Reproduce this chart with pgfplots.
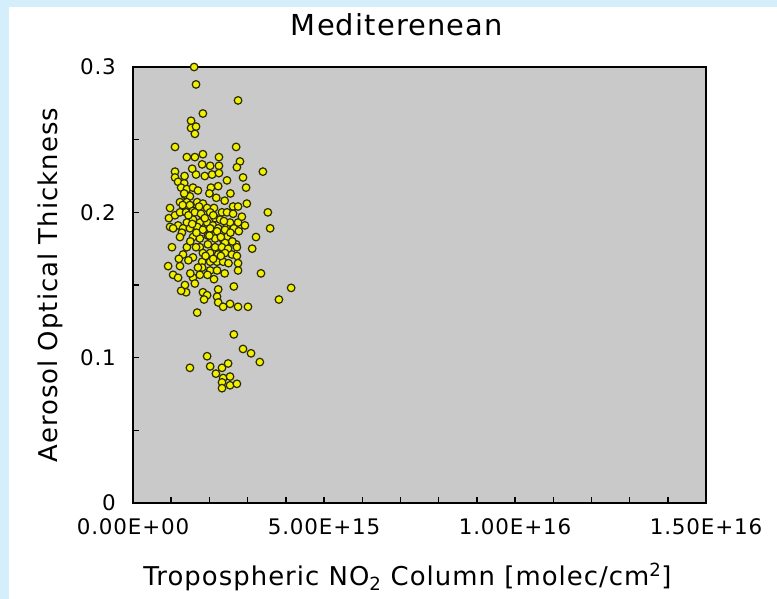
\documentclass[border=0pt]{standalone}
\usepackage{fontspec}
\setmainfont{DejaVu Sans}
\usepackage{pgfplots}
\usepackage{pgfplotstable}
\pgfplotsset{compat=1.18}
\definecolor{framebg}{HTML}{D5EEFC}
\definecolor{plotgray}{HTML}{C9C9C9}
\definecolor{dotyellow}{HTML}{F0F000}
\definecolor{dotedge}{HTML}{2B2B00}
\newfontfamily\wide[LetterSpace=4]{DejaVu Sans}

% NO2 column in units of 1e15 molec/cm^2, AOT
\pgfplotstableread{
no2 aot
1.60 0.300
1.65 0.288
2.75 0.277
1.83 0.268
1.52 0.263
1.52 0.258
1.65 0.259
1.62 0.254
1.10 0.245
2.70 0.245
1.41 0.238
1.62 0.238
1.83 0.240
2.25 0.238
2.80 0.235
1.81 0.233
2.02 0.232
2.25 0.232
2.72 0.231
3.40 0.228
1.10 0.228
1.65 0.226
1.88 0.225
2.07 0.226
2.25 0.227
2.46 0.222
2.88 0.224
1.10 0.224
1.18 0.221
1.34 0.220
1.26 0.217
1.41 0.216
1.57 0.217
1.70 0.215
1.36 0.212
1.49 0.211
2.04 0.217
2.23 0.218
2.96 0.217
1.34 0.213
1.23 0.207
1.41 0.207
1.49 0.205
1.68 0.207
1.83 0.206
0.97 0.203
0.94 0.196
1.10 0.198
1.23 0.200
1.39 0.200
1.57 0.201
1.62 0.200
1.73 0.204
1.94 0.203
2.12 0.203
2.02 0.200
2.33 0.200
2.98 0.206
2.62 0.204
2.75 0.204
2.46 0.200
2.62 0.199
3.53 0.200
1.83 0.195
2.15 0.196
0.97 0.190
1.18 0.191
1.41 0.193
1.57 0.195
1.75 0.193
1.94 0.193
2.09 0.191
2.28 0.195
2.46 0.191
1.68 0.190
2.54 0.193
2.75 0.193
2.93 0.191
3.59 0.189
2.64 0.189
1.05 0.189
1.31 0.189
2.77 0.187
1.28 0.186
1.49 0.189
1.83 0.188
2.02 0.189
2.23 0.189
2.41 0.188
1.57 0.183
1.75 0.182
1.96 0.184
2.09 0.184
2.15 0.182
2.36 0.181
2.46 0.183
1.23 0.183
3.22 0.183
2.41 0.179
2.70 0.178
3.12 0.175
1.75 0.176
1.96 0.178
2.15 0.176
2.33 0.176
2.49 0.175
2.72 0.176
1.41 0.176
1.02 0.176
1.31 0.171
1.83 0.172
2.02 0.172
2.23 0.171
2.41 0.172
2.59 0.171
2.72 0.170
1.57 0.169
1.81 0.166
2.02 0.166
2.20 0.166
2.36 0.166
2.75 0.165
0.92 0.163
1.23 0.163
1.81 0.162
2.02 0.160
2.20 0.160
2.75 0.160
3.35 0.158
1.05 0.157
1.18 0.155
1.57 0.155
1.75 0.157
1.62 0.151
1.36 0.150
1.39 0.145
1.26 0.146
1.83 0.145
1.94 0.143
2.23 0.147
2.64 0.149
4.14 0.148
3.82 0.140
1.86 0.140
2.20 0.142
2.23 0.138
2.36 0.135
2.54 0.137
2.75 0.135
3.01 0.135
1.68 0.131
2.64 0.116
2.88 0.106
3.09 0.103
3.32 0.097
1.94 0.101
1.49 0.093
2.02 0.094
2.33 0.093
2.49 0.096
2.17 0.089
2.36 0.086
2.54 0.087
2.33 0.083
2.54 0.081
2.72 0.082
2.33 0.079
1.30 0.205
1.45 0.198
1.55 0.192
1.66 0.186
1.78 0.199
1.88 0.196
2.00 0.184
2.10 0.198
2.20 0.187
2.30 0.183
2.38 0.194
2.55 0.186
1.50 0.180
1.65 0.176
1.90 0.170
2.10 0.168
2.30 0.170
2.50 0.165
1.45 0.167
1.70 0.162
1.95 0.157
2.12 0.154
2.40 0.158
1.35 0.225
1.55 0.230
2.00 0.213
2.18 0.210
2.40 0.208
1.20 0.168
1.50 0.158
2.60 0.180
2.85 0.197
2.55 0.213
}\medpoints

\begin{document}
\begin{tikzpicture}
% page background: light blue strip on the left and top, white elsewhere
\fill[framebg] (-133bp,-96bp) rectangle (644bp,503bp);
\fill[white] (-124bp,-96bp) rectangle (644bp,496bp);
\begin{axis}[
  at={(0,0)}, anchor=south west,
  scale only axis, width=573bp, height=436bp,
  xmin=0, xmax=15, ymin=0, ymax=0.3,
  xtick={0,5,10,15},
  xticklabels={0.00E+00,5.00E+15,1.00E+16,1.50E+16},
  minor xtick={1,2,3,4,6,7,8,9,11,12,13,14},
  ytick={0,0.1,0.2,0.3},
  yticklabels={0,0.1,0.2,0.3},
  minor ytick={0.05,0.15,0.25},
  tick align=inside, tick pos=left,
  major tick length=6bp, minor tick length=6bp,
  every tick/.style={black, line width=1.4bp},
  axis line style={black, line width=2.6bp},
  axis background/.style={fill=plotgray},
  tick label style={font=\wide\fontsize{21.5}{24}\selectfont, inner sep=0pt},
  xticklabel style={anchor=base, yshift=-31bp},
  yticklabel style={anchor=east, xshift=-17bp},
  title={Mediterenean},
  title style={font=\wide\fontsize{29}{32}\selectfont,
    at={(axis description cs:0.4607,1.0596)}, anchor=base},
  xlabel={Tropospheric NO\textsubscript{2} Column [molec/cm\textsuperscript{2}]},
  xlabel style={font=\wide\fontsize{26}{30}\selectfont,
    at={(axis description cs:0.479,-0.19)}, anchor=base},
  ylabel={Aerosol Optical Thickness},
  ylabel style={font=\wide\fontsize{26}{30}\selectfont,
    at={(axis description cs:-0.1309,0.5)}, anchor=base},
  clip=false,
]
\addplot[only marks, mark=*, mark size=3.8bp,
  mark options={fill=dotyellow, draw=dotedge, line width=1.2bp}]
  table[x=no2, y=aot] {\medpoints};
\end{axis}
\end{tikzpicture}
\end{document}
